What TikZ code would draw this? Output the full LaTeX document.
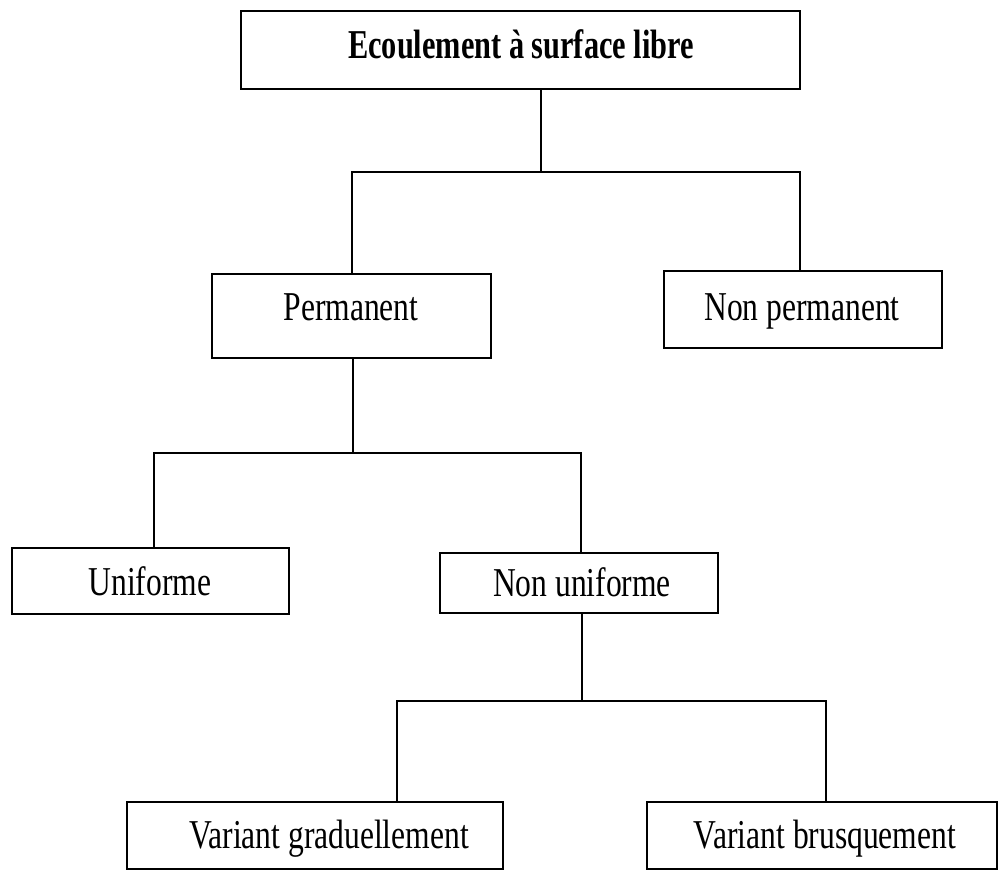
\documentclass[tikz,border=0pt]{standalone}
\usepackage{fontspec}
\usepackage{graphicx}
\setmainfont{Liberation Serif}
\newcommand{\sqz}[1]{\scalebox{0.77}[1.0]{#1}}
\newcommand{\sqzb}[1]{\scalebox{0.74}[1.0]{#1}}
\tikzset{
  box/.style={draw=black, line width=2pt, rectangle, inner sep=0pt, outer sep=0pt},
  lbl/.style={anchor=base, inner sep=0pt, font=\fontsize{41}{45}\selectfont},
  conn/.style={draw=black, line width=1.7pt}
}
\begin{document}
\begin{tikzpicture}[x=1pt, y=-1pt]
\useasboundingbox (0,0) rectangle (998,870);
% boxes
\node[box, minimum width=559, minimum height=78] (top) at (520.5,50) {};
\node[box, minimum width=279, minimum height=84] (perm) at (351.5,316) {};
\node[box, minimum width=278, minimum height=77] (nonperm) at (803,309.5) {};
\node[box, minimum width=277, minimum height=66] (unif) at (150.5,581) {};
\node[box, minimum width=278, minimum height=60] (nonunif) at (579,583) {};
\node[box, minimum width=376, minimum height=67] (vg) at (315,835.5) {};
\node[box, minimum width=350, minimum height=67] (vb) at (822,835.5) {};
% labels
\node[lbl] (ttop) at (521,58) {\sqzb{\bfseries Ecoulement à surface libre}};
\node[lbl] (tperm) at (351,320) {\sqz{Permanent}};
\node[lbl] (tnonperm) at (802,320) {\sqz{Non permanent}};
\node[lbl] (tunif) at (150,595) {\sqz{Uniforme}};
\node[lbl] (tnonunif) at (582,596) {\sqz{Non uniforme}};
\node[lbl] (tvg) at (329,848) {\sqz{Variant graduellement}};
\node[lbl] (tvb) at (825,848) {\sqz{Variant brusquement}};
% junctions
\coordinate (j1) at (541,172);
\coordinate (j1l) at (352,172);
\coordinate (j1r) at (800,172);
\coordinate (j2) at (353,453);
\coordinate (j2l) at (154,453);
\coordinate (j2r) at (581,453);
\coordinate (j3) at (582,701);
\coordinate (j3l) at (397,701);
\coordinate (j3r) at (826,701);
% connectors
\draw[conn] (top.south -| j1) -- (j1);
\draw[conn] (perm.north -| j1l) -- (j1l) -- (j1r) -- (nonperm.north -| j1r);
\draw[conn] (perm.south -| j2) -- (j2);
\draw[conn] (unif.north -| j2l) -- (j2l) -- (j2r) -- (nonunif.north -| j2r);
\draw[conn] (nonunif.south -| j3) -- (j3);
\draw[conn] (vg.north -| j3l) -- (j3l) -- (j3r) -- (vb.north -| j3r);
\end{tikzpicture}
\end{document}
